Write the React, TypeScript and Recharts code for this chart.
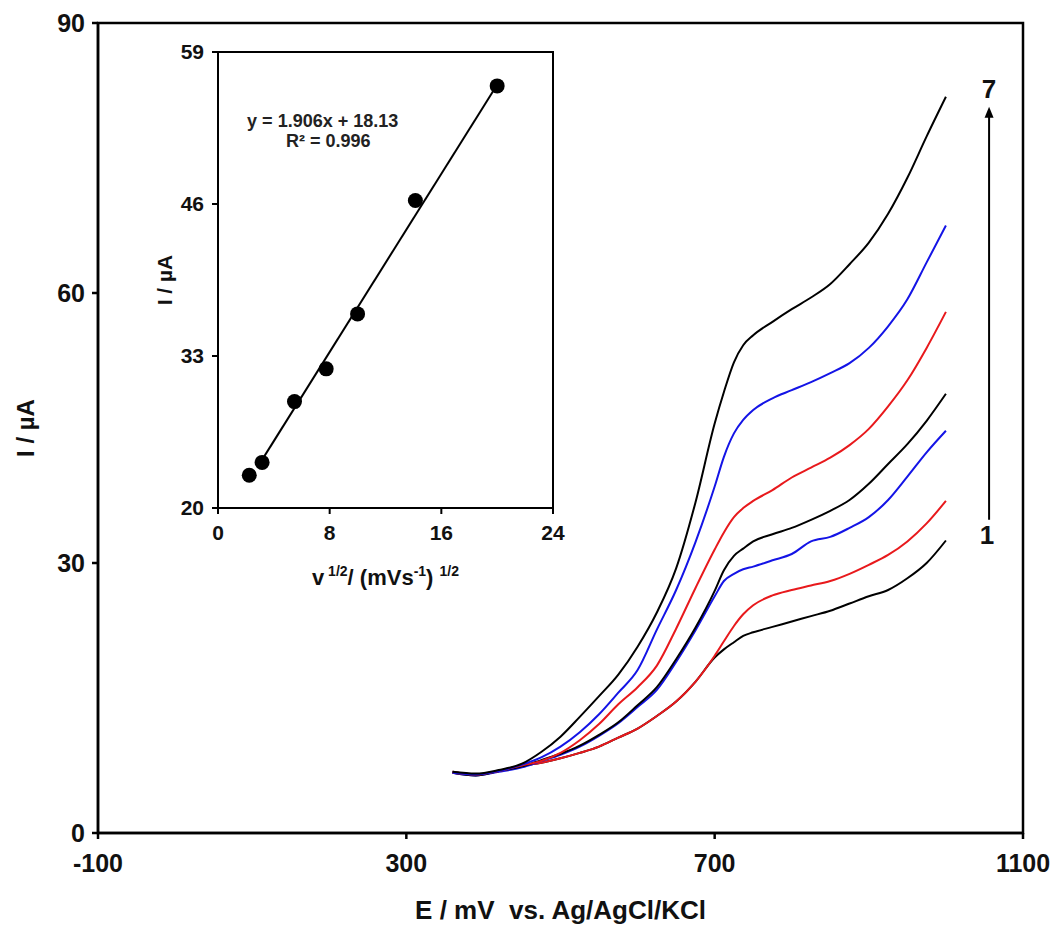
import {
  Label,
  Line,
  LineChart,
  ReferenceArea,
  ReferenceDot,
  ReferenceLine,
  Scatter,
  ScatterChart,
  XAxis,
  YAxis,
} from "recharts";

// potential grid (mV vs. Ag/AgCl/KCl)
const potentials = [
  360, 390, 420, 450, 475, 500, 525, 550, 575, 600, 625, 650, 675, 700, 712,
  725, 737, 750, 775, 800, 825, 850, 875, 900, 925, 950, 975, 1000,
];

// currents (µA), curve 1 = lowest scan rate ... curve 7 = highest
const curve1 = [
  6.8, 6.5, 6.9, 7.5, 7.8, 8.3, 8.9, 9.6, 10.6, 11.6, 13.0, 14.6, 16.8, 19.5,
  20.4, 21.2, 21.9, 22.3, 22.9, 23.5, 24.1, 24.7, 25.5, 26.3, 27.0, 28.3, 30.0,
  32.5,
];
const curve2 = [
  6.8, 6.5, 6.9, 7.5, 7.8, 8.3, 8.9, 9.6, 10.6, 11.6, 13.0, 14.6, 16.8, 19.7,
  21.3, 23.0, 24.3, 25.3, 26.4, 27.0, 27.5, 28.0, 28.8, 29.8, 30.9, 32.4, 34.4,
  36.9,
];
const curve3 = [
  6.7, 6.4, 6.8, 7.3, 8.0, 8.7, 9.6, 10.8, 12.2, 14.0, 15.9, 19.0, 22.5, 26.3,
  28.0, 28.8, 29.3, 29.6, 30.3, 31.0, 32.4, 32.9, 33.9, 35.1, 37.0, 39.6, 42.3,
  44.7,
];
const curve4 = [
  6.7, 6.4, 6.9, 7.4, 8.1, 8.8, 9.7, 10.9, 12.3, 14.2, 16.2, 19.3, 22.8, 26.9,
  29.2, 30.8, 31.6, 32.4, 33.2, 33.9, 34.8, 35.8, 37.0, 38.8, 41.0, 43.2, 45.8,
  48.8,
];
const curve5 = [
  6.7, 6.5, 6.9, 7.5, 8.0, 8.9, 10.3, 12.1, 14.3, 16.2, 18.6, 22.7, 27.2, 31.5,
  33.4, 35.1, 36.1, 36.9, 38.1, 39.5, 40.6, 41.7, 43.1, 44.9, 47.4, 50.3, 53.9,
  57.9,
];
const curve6 = [
  6.7, 6.5, 6.9, 7.6, 8.4, 9.6, 11.2, 13.2, 15.6, 18.1, 22.6, 27.0, 32.3, 38.5,
  41.8, 44.4, 45.9, 47.0, 48.3, 49.2, 50.1, 51.1, 52.2, 53.9, 56.3, 59.3, 63.4,
  67.5,
];
const curve7 = [
  6.8, 6.6, 7.0, 7.7, 9.0, 10.7, 12.9, 15.2, 17.6, 20.7, 24.5, 29.4, 36.7, 45.5,
  49.0, 52.3, 54.2, 55.3, 56.8, 58.2, 59.5, 61.0, 63.2, 65.6, 68.8, 72.8, 77.4,
  81.8,
];

const curves = [curve1, curve2, curve3, curve4, curve5, curve6, curve7];
const curveColors = [
  "#000000",
  "#e8191c",
  "#1414e6",
  "#000000",
  "#e8191c",
  "#1414e6",
  "#000000",
];

const xTicks = [-100, 300, 700, 1100];
const yTicks = [0, 30, 60, 90];

// arrow marking increasing scan rate
const arrowE = 1056;
const arrowFrom = 34.8;
const arrowTo = 80.7;
const arrowLabels = ["1", "7"];

// inset: peak current vs. square root of scan rate
const rootRate = [2.24, 3.16, 5.48, 7.75, 10, 14.14, 20];
const peakCurrent = [22.8, 23.9, 29.1, 31.9, 36.6, 46.3, 56.1];
const trendX = [3.2, 20];
const trendY = [24.2, 56.2];
const insetXTicks = [0, 8, 16, 24];
const insetYTicks = [20, 33, 46, 59];

const rows = potentials.map((E, i) => {
  const row: Record<string, number> = { E };
  curves.forEach((c, k) => {
    row[`c${k + 1}`] = c[i];
  });
  return row;
});

const insetPoints = rootRate.map((x, i) => ({ x, y: peakCurrent[i] }));
const trendPoints = trendX.map((x, i) => ({ x, y: trendY[i] }));

const FONT = '"Liberation Sans", Arial, sans-serif';

const ArrowShape = (props: any) => {
  const { x1, y1, y2 } = props;
  const top = Math.min(y1, y2);
  const bottom = Math.max(y1, y2);
  return (
    <g>
      <line x1={x1} y1={bottom} x2={x1} y2={top + 8} stroke="#000" strokeWidth={2} />
      <polygon
        points={`${x1},${top} ${x1 - 4.5},${top + 11} ${x1 + 4.5},${top + 11}`}
        fill="#000"
      />
      <text x={x1} y={top - 9} textAnchor="middle" fontSize={26} fontWeight={700} fill="#111">
        {arrowLabels[1]}
      </text>
      <text x={x1 - 2} y={bottom + 24} textAnchor="middle" fontSize={26} fontWeight={700} fill="#111">
        {arrowLabels[0]}
      </text>
    </g>
  );
};

const RotatedTitle = ({ viewBox, dx, text, size }: any) => {
  const vb = viewBox || { x: 0, y: 0, width: 0, height: 0 };
  const x = vb.x + dx;
  const y = vb.y + vb.height / 2;
  return (
    <text
      x={x}
      y={y}
      transform={`rotate(-90, ${x}, ${y})`}
      textAnchor="middle"
      dominantBaseline="middle"
      fontSize={size}
      fontWeight={700}
      fill="#111"
    >
      {text}
    </text>
  );
};

const RateTitle = ({ viewBox }: any) => {
  const vb = viewBox || { x: 0, y: 0, width: 0, height: 0 };
  const x = vb.x + vb.width / 2;
  const y = vb.y + 77;
  return (
    <text x={x} y={y} textAnchor="middle" fontSize={22} fontWeight={700} fill="#111">
      v
      <tspan dy={-9} fontSize={14}>{"\u00a01/2"}</tspan>
      <tspan dy={9}>/ (mVs</tspan>
      <tspan dy={-9} fontSize={14}>-1</tspan>
      <tspan dy={9}>{")\u00a0"}</tspan>
      <tspan dy={-9} fontSize={14}>1/2</tspan>
    </text>
  );
};

const tickStyle = { fill: "#111", fontSize: 25, fontWeight: 700 };
const insetTickStyle = { fill: "#111", fontSize: 21, fontWeight: 700 };

export default function App() {
  return (
    <div
      style={{
        position: "absolute",
        left: 0,
        top: 0,
        width: 1051,
        height: 928,
        background: "#fff",
        fontFamily: FONT,
      }}
    >
      <LineChart
        width={1051}
        height={928}
        data={rows}
        margin={{ top: 23, right: 28, bottom: 35, left: 0 }}
      >
        <XAxis
          dataKey="E"
          type="number"
          domain={[-100, 1100]}
          ticks={xTicks}
          allowDataOverflow
          height={60}
          tickSize={6}
          tickMargin={15}
          stroke="#000"
          strokeWidth={2.5}
          tick={tickStyle}
        >
          <Label
            position="bottom"
            offset={8}
            value={"E / mV\u00a0 vs. Ag/AgCl/KCl"}
            fill="#111"
            fontSize={26}
            fontWeight={700}
          />
        </XAxis>
        <YAxis
          type="number"
          domain={[0, 90]}
          ticks={yTicks}
          allowDataOverflow
          width={98}
          tickSize={6}
          tickMargin={7}
          stroke="#000"
          strokeWidth={2.5}
          tick={tickStyle}
        >
          <Label
            content={(p: any) => (
              <RotatedTitle viewBox={p.viewBox} dx={28} text="I / µA" size={24} />
            )}
          />
        </YAxis>
        <ReferenceArea
          x1={-100}
          x2={1100}
          y1={0}
          y2={90}
          fill="none"
          stroke="#000"
          strokeWidth={2.5}
        />
        {curves.map((_, k) => (
          <Line
            key={k}
            dataKey={`c${k + 1}`}
            type="monotone"
            stroke={curveColors[k]}
            strokeWidth={2}
            dot={false}
            activeDot={false}
            isAnimationActive={false}
          />
        ))}
        <ReferenceLine
          segment={[
            { x: arrowE, y: arrowFrom },
            { x: arrowE, y: arrowTo },
          ]}
          shape={ArrowShape}
        />
      </LineChart>

      <div style={{ position: "absolute", left: 120, top: 30 }}>
        <ScatterChart
          width={460}
          height={570}
          margin={{ top: 22, right: 27, bottom: 22, left: 0 }}
        >
          <XAxis
            dataKey="x"
            type="number"
            domain={[0, 24]}
            ticks={insetXTicks}
            allowDataOverflow
            height={70}
            tickSize={6}
            tickMargin={11}
            stroke="#000"
            strokeWidth={2}
            tick={insetTickStyle}
          >
            <Label content={(p: any) => <RateTitle viewBox={p.viewBox} />} />
          </XAxis>
          <YAxis
            dataKey="y"
            type="number"
            domain={[20, 59]}
            ticks={insetYTicks}
            allowDataOverflow
            width={98}
            tickSize={6}
            tickMargin={8}
            stroke="#000"
            strokeWidth={2}
            tick={insetTickStyle}
          >
            <Label
              content={(p: any) => (
                <RotatedTitle viewBox={p.viewBox} dx={46} text="I / µA" size={21} />
              )}
            />
          </YAxis>
          <ReferenceArea
            x1={0}
            x2={24}
            y1={20}
            y2={59}
            fill="none"
            stroke="#000"
            strokeWidth={2}
          />
          <Scatter
            data={trendPoints}
            line={{ stroke: "#000", strokeWidth: 2 }}
            shape={() => <g />}
            isAnimationActive={false}
          />
          <Scatter
            data={insetPoints}
            shape={(p: any) => <circle cx={p.cx} cy={p.cy} r={7.5} fill="#000" />}
            isAnimationActive={false}
          />
          <ReferenceDot x={7.5} y={53.1} r={0} stroke="none">
            <Label
              position="center"
              value="y = 1.906x + 18.13"
              fill="#222"
              fontSize={18}
              fontWeight={700}
            />
          </ReferenceDot>
          <ReferenceDot x={7.9} y={51.4} r={0} stroke="none">
            <Label
              position="center"
              value="R² = 0.996"
              fill="#222"
              fontSize={18}
              fontWeight={700}
            />
          </ReferenceDot>
        </ScatterChart>
      </div>
    </div>
  );
}
